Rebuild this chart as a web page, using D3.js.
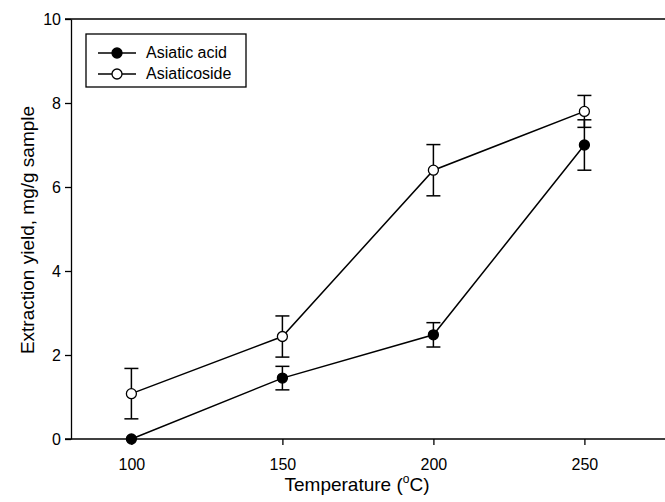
<!DOCTYPE html>
<html>
<head>
<meta charset="utf-8">
<script src="https://cdn.jsdelivr.net/npm/d3@7"></script>
<style>
  body { margin: 0; background: #fff; }
  svg { display: block; font-family: "Liberation Sans", Arial, sans-serif; }
  text { fill: #000; }
</style>
</head>
<body>
<div class="chart"></div>
<script>
// data
let temps = [100, 150, 200, 250];
let acidMean = [0, 1.45, 2.48, 7.0];
let acidErr = [0, 0.28, 0.29, 0.6];
let sideMean = [1.08, 2.44, 6.4, 7.8];
let sideErr = [0.6, 0.49, 0.61, 0.38];
let xTicks = [100, 150, 200, 250];
let yTicks = [0, 2, 4, 6, 8, 10];

let width = 665, height = 502;

let svg = d3.select(".chart").append("svg")
	.attr("width", width).attr("height", height);

let x = d3.scaleLinear().domain([80, 280]).range([71, 675]);
let y = d3.scaleLinear().domain([0, 10]).range([439, 19]);

// frame (right side falls outside the picture)
svg.append("line")
	.attr("x1", 65).attr("x2", x(280))
	.attr("y1", y(10)).attr("y2", y(10))
	.attr("stroke", "#000").attr("stroke-width", 1.3);
svg.append("line")
	.attr("x1", x(280)).attr("x2", x(280))
	.attr("y1", y(10)).attr("y2", y(0))
	.attr("stroke", "#000").attr("stroke-width", 1.3);

let yAxis = d3.axisLeft(y).tickValues(yTicks).tickSize(6).tickSizeOuter(0).tickPadding(4);
let xAxis = d3.axisBottom(x).tickValues(xTicks).tickSize(6).tickSizeOuter(0).tickPadding(14);

let gy = svg.append("g").attr("transform", "translate(" + x(80) + ",0)").call(yAxis);
let gx = svg.append("g").attr("transform", "translate(0," + y(0) + ")").call(xAxis);

[gx, gy].forEach(function(g) {
	g.selectAll("path, line").attr("stroke", "#000").attr("stroke-width", 1.3);
	g.selectAll("text").attr("font-size", 16).attr("fill", "#000")
		.style("font-family", "'Liberation Sans', Arial, sans-serif");
});
// x axis line reaches to the left of the y axis
gx.select(".domain").attr("d", "M65,0H" + x(280));

// axis titles
svg.append("text")
	.attr("transform", "translate(34," + (y(5) + 1) + ") rotate(-90)")
	.attr("text-anchor", "middle")
	.attr("font-size", 19)
	.attr("fill", "#000")
	.text("Extraction yield, mg/g sample");

let xt = svg.append("text")
	.attr("x", 357).attr("y", 491)
	.attr("text-anchor", "middle")
	.attr("font-size", 19)
	.attr("fill", "#000");
xt.append("tspan").text("Temperature (");
xt.append("tspan").attr("font-size", 12).attr("dy", -8).text("o");
xt.append("tspan").attr("dy", 8).text("C)");

let line = d3.line()
	.x(function(d) { return x(d.t); })
	.y(function(d) { return y(d.v); });

function series(means, errs, fill) {
	let pts = temps.map(function(t, i) { return { t: t, v: means[i], e: errs[i] }; });
	let g = svg.append("g");
	g.append("path")
		.attr("d", line(pts))
		.attr("fill", "none").attr("stroke", "#000").attr("stroke-width", 1.5);
	let eb = g.selectAll(".err").data(pts.filter(function(d) { return d.e > 0; }))
		.enter().append("g");
	eb.append("line")
		.attr("x1", function(d) { return x(d.t); }).attr("x2", function(d) { return x(d.t); })
		.attr("y1", function(d) { return y(d.v - d.e); }).attr("y2", function(d) { return y(d.v + d.e); })
		.attr("stroke", "#000").attr("stroke-width", 1.5);
	[-1, 1].forEach(function(s) {
		eb.append("line")
			.attr("x1", function(d) { return x(d.t) - 7; }).attr("x2", function(d) { return x(d.t) + 7; })
			.attr("y1", function(d) { return y(d.v + s * d.e); }).attr("y2", function(d) { return y(d.v + s * d.e); })
			.attr("stroke", "#000").attr("stroke-width", 1.5);
	});
	g.selectAll("circle").data(pts).enter().append("circle")
		.attr("cx", function(d) { return x(d.t); })
		.attr("cy", function(d) { return y(d.v); })
		.attr("r", 5)
		.attr("fill", fill).attr("stroke", "#000").attr("stroke-width", 1.3);
}

series(sideMean, sideErr, "#fff");
series(acidMean, acidErr, "#000");

// legend
let lg = svg.append("g");
lg.append("rect")
	.attr("x", 86).attr("y", 34).attr("width", 160).attr("height", 53)
	.attr("fill", "#fff").attr("stroke", "#000").attr("stroke-width", 1.3);
let legendItems = [
	{ label: "Asiatic acid", fill: "#000", yy: 53 },
	{ label: "Asiaticoside", fill: "#fff", yy: 74 }
];
legendItems.forEach(function(d) {
	lg.append("line").attr("x1", 98).attr("x2", 136).attr("y1", d.yy).attr("y2", d.yy)
		.attr("stroke", "#000").attr("stroke-width", 1.5);
	lg.append("circle").attr("cx", 117).attr("cy", d.yy).attr("r", 5)
		.attr("fill", d.fill).attr("stroke", "#000").attr("stroke-width", 1.3);
	lg.append("text").attr("x", 146).attr("y", d.yy + 5)
		.attr("font-size", 16).attr("fill", "#000").text(d.label);
});
</script>
</body>
</html>
